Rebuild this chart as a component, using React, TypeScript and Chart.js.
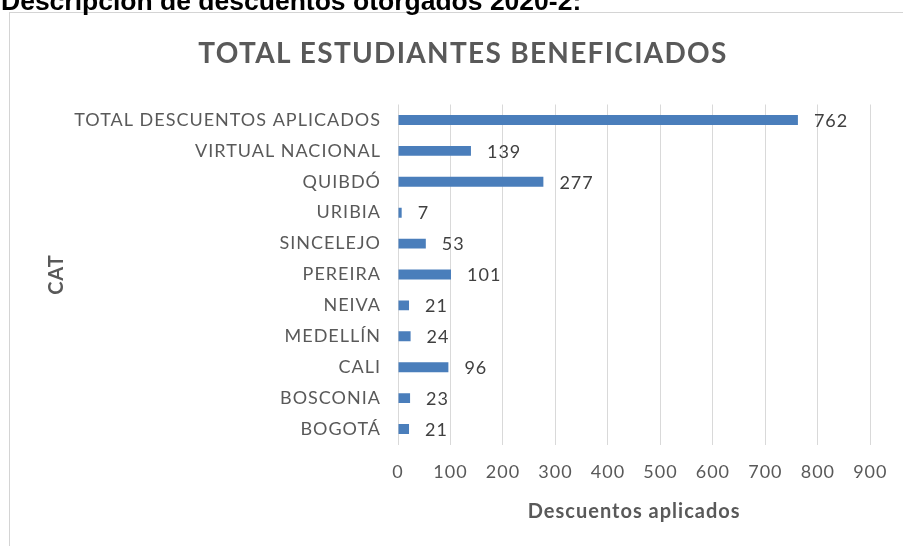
import React, { useEffect, useRef } from "react";
import { Chart, registerables } from "chart.js";

Chart.register(...registerables);

const heading = "Descripción de descuentos otorgados 2020-2:";
const chartTitle = "TOTAL ESTUDIANTES BENEFICIADOS";
const categories = [
  "TOTAL DESCUENTOS APLICADOS",
  "VIRTUAL NACIONAL",
  "QUIBDÓ",
  "URIBIA",
  "SINCELEJO",
  "PEREIRA",
  "NEIVA",
  "MEDELLÍN",
  "CALI",
  "BOSCONIA",
  "BOGOTÁ",
];
const values = [762, 139, 277, 7, 53, 101, 21, 24, 96, 23, 21];
const xAxisTitle = "Descuentos aplicados";
const yAxisTitle = "CAT";
const xMin = 0;
const xMax = 900;
const xStep = 100;

const FONT = "Lato";

const decorPlugin = {
  id: "decor",
  beforeDraw(chart: any) {
    const ctx = chart.ctx;
    ctx.save();
    ctx.letterSpacing = "0px";
    ctx.fillStyle = "#ffffff";
    ctx.fillRect(0, 0, chart.width, chart.height);
    ctx.strokeStyle = "#d4d4d4";
    ctx.lineWidth = 1;
    ctx.beginPath();
    ctx.moveTo(9, 12.5);
    ctx.lineTo(chart.width, 12.5);
    ctx.moveTo(9.5, 12);
    ctx.lineTo(9.5, chart.height);
    ctx.stroke();
    ctx.fillStyle = "#000000";
    ctx.font = "bold 26.5px 'Liberation Sans', Arial, sans-serif";
    ctx.textAlign = "left";
    ctx.textBaseline = "alphabetic";
    ctx.fillText(heading, 1, 10);
    ctx.fillStyle = "#595959";
    ctx.font = `bold 28px ${FONT}`;
    ctx.letterSpacing = "1.3px";
    ctx.textAlign = "center";
    ctx.fillText(chartTitle, 463, 63);
    ctx.restore();
    ctx.letterSpacing = "1px";
  },
  afterDatasetsDraw(chart: any) {
    const ctx = chart.ctx;
    const meta = chart.getDatasetMeta(0);
    ctx.save();
    ctx.letterSpacing = "1px";
    ctx.fillStyle = "#404040";
    ctx.font = `18px ${FONT}`;
    ctx.textAlign = "left";
    ctx.textBaseline = "middle";
    meta.data.forEach((bar: any, i: number) => {
      ctx.fillText(String(values[i]), bar.x + 16, bar.y + 1);
    });
    ctx.restore();
  },
};

export default function App() {
  const ref = useRef<HTMLCanvasElement>(null);
  useEffect(() => {
    if (!ref.current) return;
    const chart = new Chart(ref.current, {
      type: "bar",
      data: {
        labels: categories,
        datasets: [
          {
            data: values,
            backgroundColor: "#4a7ebb",
            borderWidth: 0,
            barPercentage: 0.32,
            categoryPercentage: 1,
          },
        ],
      },
      options: {
        indexAxis: "y",
        responsive: false,
        animation: false,
        layout: { padding: { left: 45, right: 32, top: 104.5, bottom: 10 } },
        plugins: {
          legend: { display: false },
          title: { display: false },
          tooltip: { enabled: false },
        },
        scales: {
          x: {
            type: "linear",
            min: xMin,
            max: xMax,
            ticks: {
              stepSize: xStep,
              color: "#595959",
              font: { family: FONT, size: 18 },
              padding: 17,
            },
            grid: { color: "#d9d9d9", lineWidth: 1, drawTicks: false },
            border: { display: false },
            title: {
              display: true,
              text: xAxisTitle,
              color: "#595959",
              font: { family: FONT, size: 20, weight: "bold" },
              padding: { top: 0, bottom: 12 },
            },
            afterFit(scale: any) {
              scale.height = 91.5;
            },
          },
          y: {
            type: "category",
            ticks: {
              color: "#595959",
              font: { family: FONT, size: 18 },
              padding: 17,
            },
            grid: { display: false, drawTicks: false },
            border: { display: false },
            title: {
              display: true,
              text: yAxisTitle,
              color: "#595959",
              font: { family: FONT, size: 20, weight: "bold" },
              padding: { top: 0, bottom: 0 },
            },
            afterFit(scale: any) {
              scale.width = 353;
            },
          },
        },
      },
      plugins: [decorPlugin],
    });
    return () => chart.destroy();
  }, []);
  return (
    <div style={{ position: "fixed", left: 0, top: 0, width: 903, height: 546, background: "#fff" }}>
      <canvas ref={ref} width={903} height={546} style={{ display: "block" }} />
    </div>
  );
}
